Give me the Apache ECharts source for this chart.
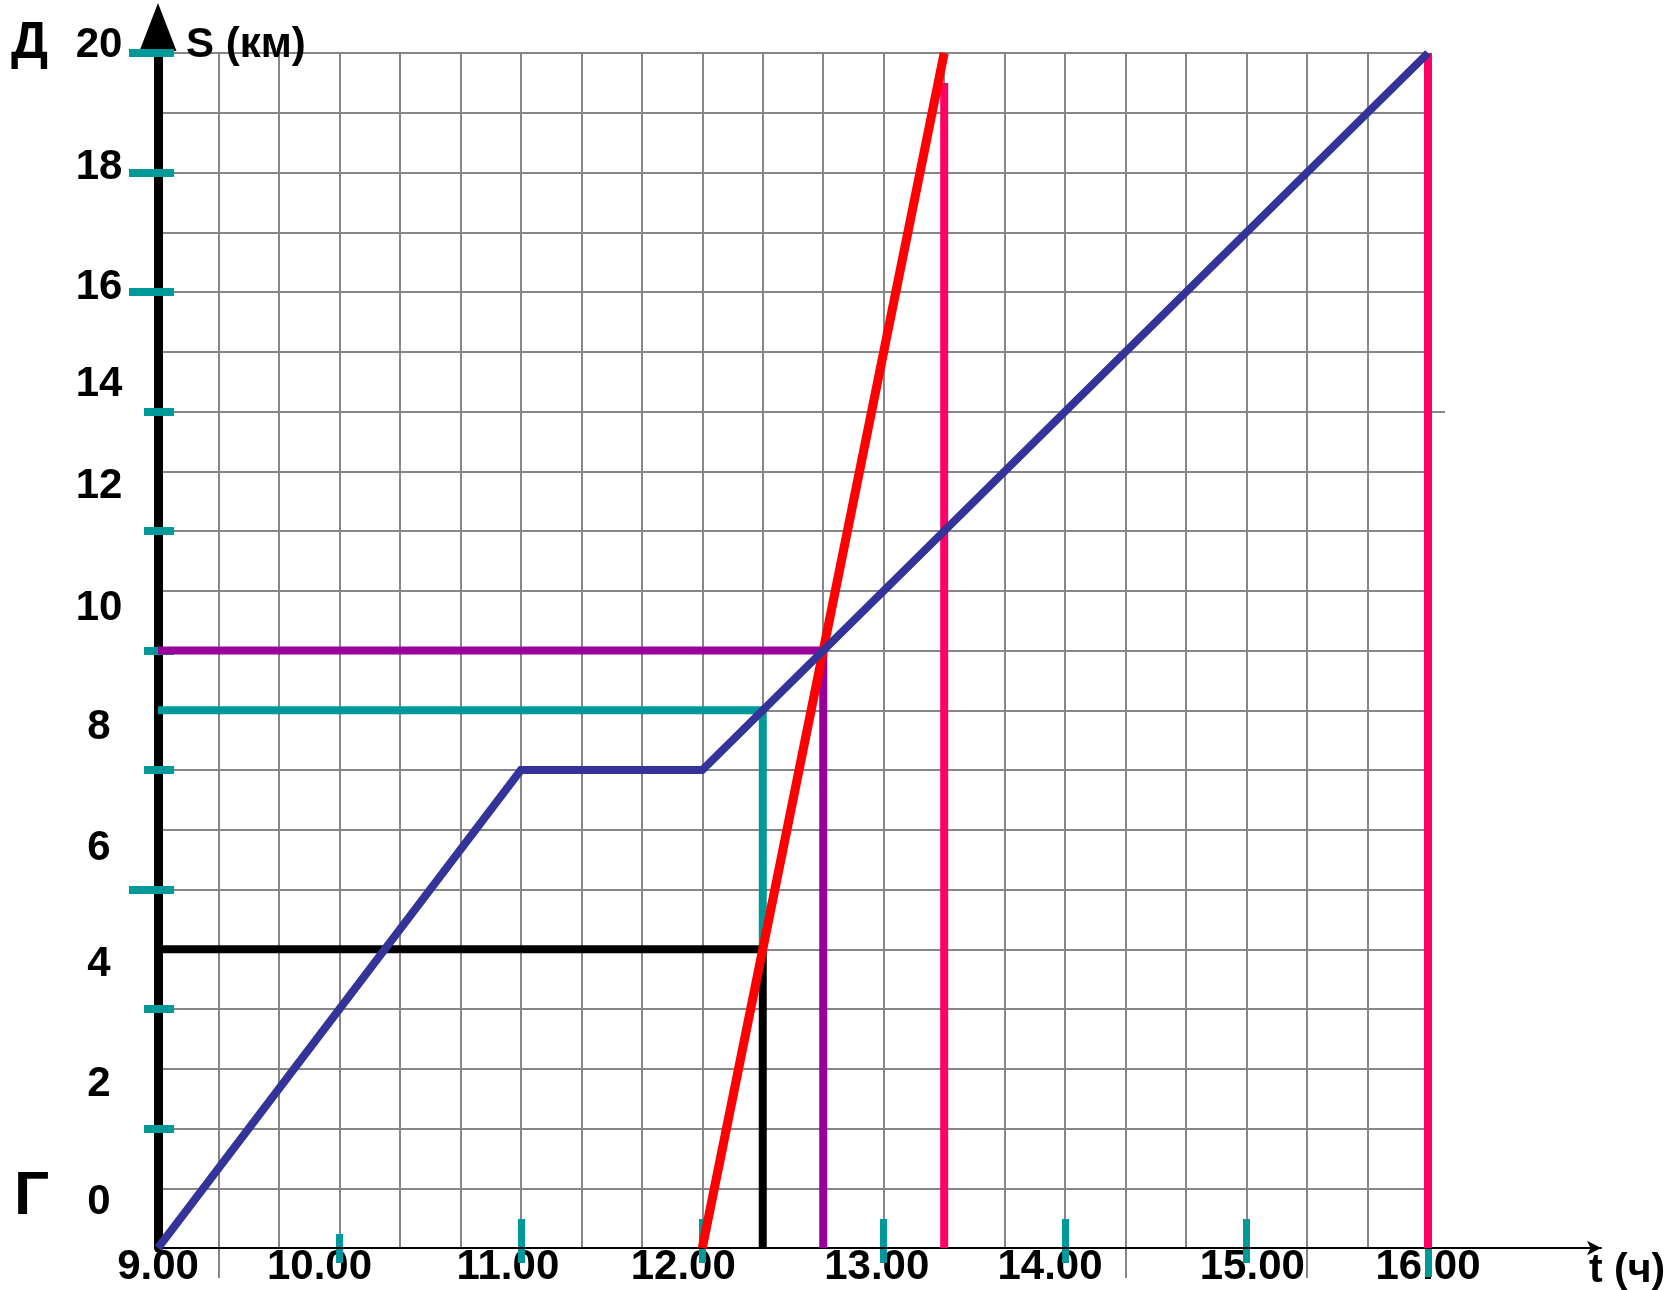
<!DOCTYPE html>
<html><head><meta charset="utf-8">
<script src="https://cdn.jsdelivr.net/npm/echarts@6/dist/echarts.min.js"></script>
<style>html,body{margin:0;padding:0;background:#fff}#c{width:1672px;height:1290px}</style>
</head><body><div id="c"></div>
<script>
// Time is in minutes after midnight (9.00 = 540, 16.00 = 960)
const xTickValues = [540, 600, 660, 720, 780, 840, 900, 960];
const xTickLabels = ['9.00', '10.00', '11.00', '12.00', '13.00', '14.00', '15.00', '16.00'];
const yTickValues = [0, 2, 4, 6, 8, 10, 12, 14, 16, 18, 20];
const yTickLabels = ['0', '2', '4', '6', '8', '10', '12', '14', '16', '18', '20'];

// pedestrian (blue)
const walkT = [540, 660, 720, 960];
const walkS = [0, 8, 8, 20];
// cyclist (red)
const bikeT = [720, 780, 800];
const bikeS = [0, 15, 20];
// helper lines
const purpleT = [540, 760, 760];
const purpleS = [10, 10, 0];
const tealT = [540, 740, 740];
const tealS = [9, 9, 5];
const blackT = [540, 740, 740];
const blackS = [5, 5, 0];
const pinkAT = [800, 800];
const pinkAS = [0, 19.5];
const pinkBT = [960, 960];
const pinkBS = [0, 20];

// label placement as drawn in the picture (slightly off the ticks)
const xLabelAt = [540, 593.4, 655.7, 713.7, 777.7, 835, 901.9, 960];
const yLabelAt = [0.77, 2.73, 4.74, 6.69, 8.72, 10.71, 12.74, 14.46, 16.07, 18.09, 20];

const zip = (a, b) => a.map((v, i) => [v, b[i]]);
const nearest = (arr, v) => { let bi = 0, bd = Infinity; arr.forEach((a, i) => { const d = Math.abs(a - v); if (d < bd) { bd = d; bi = i; } }); return bi; };

const FONT = '"Liberation Sans", Arial, sans-serif';
const TEAL = '#009999';
const GRID = '#868686';
const XMIN = 540, XMAX = 960, YMIN = 0, YMAX = 20;

function tickAxisX(values, inside, length, color, width, z) {
  return { type: 'value', gridIndex: 0, position: 'bottom', min: XMIN, max: XMAX, z: z,
    axisLine: { show: false }, axisLabel: { show: false }, splitLine: { show: false },
    axisTick: { show: true, customValues: values, inside: inside, length: length, lineStyle: { color: color, width: width } } };
}
function tickAxisY(values, inside, length, color, width, z, pos) {
  return { type: 'value', gridIndex: 0, position: pos || 'left', min: YMIN, max: YMAX, z: z,
    axisLine: { show: false }, axisLabel: { show: false }, splitLine: { show: false },
    axisTick: { show: true, customValues: values, inside: inside, length: length, lineStyle: { color: color, width: width } } };
}
function lineSeries(name, t, s, color, width) {
  return { name: name, type: 'line', xAxisIndex: 0, yAxisIndex: 0, data: zip(t, s), symbol: 'none', clip: false,
    lineStyle: { color: color, width: width, cap: 'butt', join: 'miter' }, silent: true };
}

const chart = echarts.init(document.getElementById('c'), null, { renderer: 'canvas' });
chart.setOption({
  animation: false,
  backgroundColor: '#ffffff',
  grid: [
    { left: 158, right: 244, top: 53, bottom: 42 },
    { left: 158, right: 71, top: 53, bottom: 42 }
  ],
  xAxis: [
    { type: 'value', gridIndex: 0, position: 'bottom', min: XMIN, max: XMAX, interval: 20,
      axisLine: { show: false }, axisTick: { show: false },
      splitLine: { show: true, lineStyle: { color: GRID, width: 2 } },
      axisLabel: { show: true, customValues: xLabelAt, margin: -2, color: '#000', fontFamily: FONT, fontWeight: 'bold', fontSize: 42,
        formatter: v => xTickLabels[nearest(xLabelAt, v)] } },
    tickAxisX([660, 720, 780, 840, 900, 960], true, 29, TEAL, 7, 1),
    tickAxisX([600], true, 14, TEAL, 7, 1),
    tickAxisX([600, 660, 720, 780, 840, 900, 960], false, 15, TEAL, 7, 1),
    tickAxisX([960], false, 29, TEAL, 7, 1),
    tickAxisX([560, 860, 920], false, 30, GRID, 2, 0),
    { type: 'value', gridIndex: 1, position: 'bottom', min: XMIN, max: 1140, z: 3,
      axisLine: { show: true, symbol: ['none', 'arrow'], symbolSize: [11, 14], lineStyle: { color: '#000', width: 2 } },
      axisTick: { show: false }, axisLabel: { show: false }, splitLine: { show: false } }
  ],
  yAxis: [
    { type: 'value', gridIndex: 0, position: 'left', min: YMIN, max: YMAX, interval: 1, z: 0,
      axisLine: { show: true, symbol: ['none', 'triangle'], symbolSize: [37, 48], symbolOffset: [0, 26],
        lineStyle: { color: '#000', width: 9 } },
      axisTick: { show: false },
      splitLine: { show: true, lineStyle: { color: GRID, width: 2 } },
      axisLabel: { show: true, customValues: yLabelAt, margin: 59, align: 'center', color: '#000', fontFamily: FONT, fontWeight: 'bold', fontSize: 42,
        formatter: v => { const i = nearest(yLabelAt, v); return i === yLabelAt.length - 1 ? '{top|' + yTickLabels[i] + '}' : yTickLabels[i]; },
        rich: { top: { fontFamily: FONT, fontWeight: 'bold', fontSize: 42, color: '#000', padding: [0, 0, 16, 0] } } } },
    tickAxisY([2, 4, 6, 8, 10, 12, 14, 16, 18, 20], true, 16, TEAL, 8, 1),
    tickAxisY([2, 4, 8, 10, 12, 14], false, 14, TEAL, 8, 1),
    tickAxisY([6, 16, 18, 20], false, 29, TEAL, 8, 1),
    tickAxisY([14], false, 17, GRID, 2, 0, 'right'),
    { type: 'value', gridIndex: 1, min: YMIN, max: YMAX, show: false }
  ],
  series: [
    lineSeries('purple', purpleT, purpleS, '#990099', 8),
    lineSeries('teal', tealT, tealS, TEAL, 8),
    lineSeries('black', blackT, blackS, '#000000', 8),
    lineSeries('pinkA', pinkAT, pinkAS, '#ff0066', 8),
    lineSeries('pinkB', pinkBT, pinkBS, '#ff0066', 8),
    lineSeries('bike', bikeT, bikeS, '#ff0000', 9),
    lineSeries('walk', walkT, walkS, '#333399', 8)
  ],
  graphic: [
    { type: 'text', x: 11, y: 44, z: 10, style: { text: 'Д', font: 'bold 52px ' + FONT, fill: '#000', verticalAlign: 'middle' } },
    { type: 'text', x: 14, y: 1197, z: 10, style: { text: 'Г', font: 'bold 62px ' + FONT, fill: '#000', verticalAlign: 'middle' } },
    { type: 'text', x: 186, y: 45, z: 10, style: { text: 'S (км)', font: 'bold 42px ' + FONT, fill: '#000', verticalAlign: 'middle' } },
    { type: 'text', x: 1589, y: 1271, z: 10, style: { text: 't (ч)', font: 'bold 41px ' + FONT, fill: '#000', verticalAlign: 'middle' } }
  ]
});
</script></body></html>
